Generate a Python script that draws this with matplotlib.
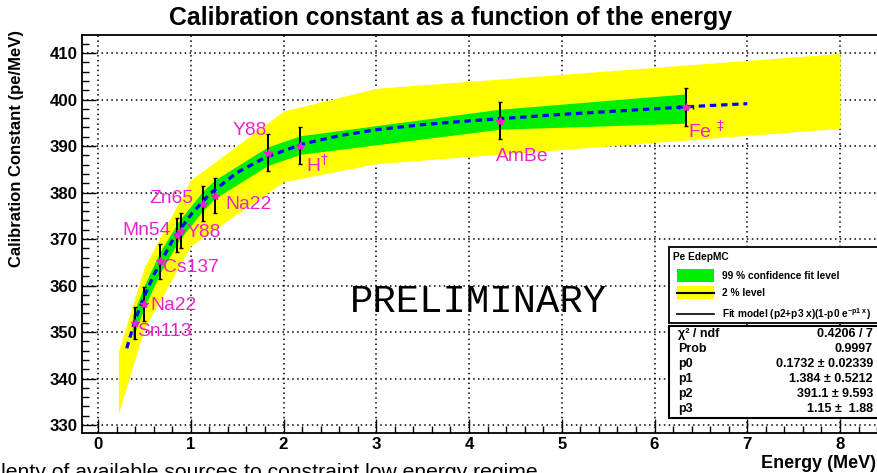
import matplotlib
matplotlib.use("Agg")
import matplotlib.pyplot as plt
from matplotlib.patches import Rectangle
from matplotlib.lines import Line2D
from matplotlib.ticker import MultipleLocator

plt.rcParams["font.family"] = ["Liberation Sans", "DejaVu Sans"]

# calibration points
energy = [0.40, 0.50, 0.67, 0.85, 0.89, 1.13, 1.26, 1.83, 2.18, 4.33, 6.34]
energy_err = [0, 0, 0, 0, 0, 0, 0, 0, 0, 0, 0.08]
calib = [351.9, 356.0, 365.2, 370.9, 371.8, 377.6, 379.3, 388.6, 390.1, 395.4, 398.4]
calib_err = [3.5, 3.6, 3.7, 3.7, 3.7, 3.8, 3.8, 3.9, 3.9, 4.0, 4.0]
sources = ["Sn113", "Na22", "Cs137", "Mn54", "Y88", "Zn65", "Na22", "Y88",
           r"H$^{\dagger}$", "AmBe", r"Fe $^{\ddagger}$"]

# fit curve (dashed)
fit_x = [0.31, 0.4, 0.5, 0.6, 0.8, 1.0, 1.2, 1.5, 1.8, 2.2, 2.6, 3.0, 3.5,
         4.0, 4.5, 5.0, 5.5, 6.0, 6.5, 7.0]
fit_y = [346.5, 352.6, 357.7, 362.2, 369.6, 375.2, 379.6, 384.3, 387.5, 390.4,
         392.2, 393.5, 394.6, 395.4, 396.1, 396.8, 397.4, 398.0, 398.6, 399.1]

# 99 % confidence band (green)
cl99_x = [0.37, 0.50, 0.67, 0.87, 1.13, 1.26, 1.83, 2.18, 4.33, 6.34]
cl99_lo = [348.4, 355.3, 362.7, 369.6, 376.1, 378.7, 385.8, 388.2, 393.6, 394.9]
cl99_hi = [353.4, 360.1, 367.3, 373.8, 380.3, 382.7, 389.8, 392.2, 397.9, 401.2]

# 2 % band (yellow)
lvl2_x = [0.22, 0.5, 1.0, 2.0, 3.0, 8.0]
lvl2_lo = [332.5, 350.8, 368.5, 382.3, 386.2, 393.8]
lvl2_hi = [345.8, 364.0, 382.7, 397.5, 402.4, 409.9]

stats_names = ["χ² / ndf", "Prob", "p0", "p1", "p2", "p3"]
stats_values = ["0.4206 / 7", "0.9997", "0.1732 ± 0.02339", "1.384 ± 0.5212",
                "391.1 ± 9.593", "1.15 ±  1.88"]

W, H = 878, 473


def fx(px):
    return px / W


def fy(py):
    return 1 - py / H


def main():
    fig = plt.figure(figsize=(W / 100, H / 100), dpi=100)
    ax = fig.add_axes([fx(82), fy(432.5), fx(882 - 82), (432.5 - 35) / H])

    ax.fill_between(lvl2_x, lvl2_lo, lvl2_hi, color="#ffff00", lw=0, zorder=1)
    ax.fill_between(cl99_x, cl99_lo, cl99_hi, color="#00ee00", lw=0, zorder=2)
    ax.plot(fit_x, fit_y, color="#0000ff", lw=2.3, ls=(0, (2.0, 1.5)), zorder=4)
    ax.errorbar(energy, calib, yerr=calib_err, xerr=energy_err, fmt="none",
                ecolor="black", elinewidth=1.4, capsize=1.5, zorder=3)
    ax.plot(energy, calib, ls="none", marker="*", ms=6, color="#ee22cc", zorder=5)

    # source labels
    lab_x = [0.42, 0.57, 0.70, 0.79, 0.96, 1.03, 1.37, 1.82, 2.24, 4.29, 6.36]
    lab_y = [350.2, 355.7, 363.9, 371.9, 371.4, 378.8, 377.5, 393.4, 385.9, 387.8, 393.2]
    lab_ha = ["left", "left", "left", "right", "left", "right", "left", "right",
              "left", "left", "left"]
    for s, x, y, ha in zip(sources, lab_x, lab_y, lab_ha):
        ax.text(x, y, s, color="#ee22cc", fontsize=13.9, ha=ha, va="center", zorder=6)

    ax.set_xlim((82 - 98) / 92.75, (882 - 98) / 92.75)
    ax.set_ylim(410 - (432.5 - 53) / 4.65, 410 + (53 - 35) / 4.65)
    ax.xaxis.set_major_locator(MultipleLocator(1))
    ax.xaxis.set_minor_locator(MultipleLocator(0.2))
    ax.yaxis.set_major_locator(MultipleLocator(10))
    ax.yaxis.set_minor_locator(MultipleLocator(2))
    ax.tick_params(which="both", direction="in", width=1, top=False, right=False)
    ax.tick_params(which="major", length=10, labelsize=12.1, pad=3)
    ax.tick_params(which="minor", length=5)
    for lab in ax.get_xticklabels() + ax.get_yticklabels():
        lab.set_fontweight("bold")
    ax.grid(True, which="major", color="black", lw=1.1, ls=(0, (1, 2.2)))
    ax.set_axisbelow(True)
    for sp in ax.spines.values():
        sp.set_linewidth(1.3)

    fig.text(fx(478), fy(302), "PRELIMINARY", family="Liberation Mono", fontsize=28,
             ha="center", va="center")

    fig.text(fx(451), fy(18), "Calibration constant as a function of the energy",
             fontsize=17.9, fontweight="bold", ha="center", va="center")
    fig.text(fx(876), fy(463), "Energy (MeV)", fontsize=13, fontweight="bold",
             ha="right", va="center")
    fig.text(fx(17), fy(30), "Calibration Constant (pe/MeV)", fontsize=12,
             fontweight="bold", rotation=90, ha="center", va="top")
    fig.text(fx(-13), fy(478), "Plenty of available sources to constraint low energy regime",
             fontsize=15.2, ha="left", va="baseline")

    # legend box
    fig.add_artist(Rectangle((fx(669), fy(323)), fx(882 - 669), (323 - 247) / H,
                             transform=fig.transFigure, facecolor="white",
                             edgecolor="black", lw=1.3, zorder=10))
    fig.text(fx(673), fy(257), "Pe EdepMC", fontsize=7.3, fontweight="bold",
             va="center", zorder=11)
    fig.add_artist(Rectangle((fx(677), fy(282)), fx(37), 13 / H, transform=fig.transFigure,
                             facecolor="#00ee00", lw=0, zorder=11))
    fig.text(fx(722), fy(276), "99 % confidence fit level", fontsize=7.3,
             fontweight="bold", va="center", zorder=11)
    fig.add_artist(Rectangle((fx(677), fy(299)), fx(37), 13 / H, transform=fig.transFigure,
                             facecolor="#ffff00", lw=0, zorder=11))
    fig.add_artist(Line2D([fx(677), fx(714)], [fy(293), fy(293)], transform=fig.transFigure,
                          color="black", lw=1.5, zorder=12))
    fig.text(fx(722), fy(293), "2 % level", fontsize=7.3, fontweight="bold",
             va="center", zorder=11)
    fig.add_artist(Line2D([fx(677), fx(714)], [fy(314), fy(314)], transform=fig.transFigure,
                          color="black", lw=1.2, zorder=12))
    fig.text(fx(722), fy(314), r"Fit model (p2+p3 x)(1-p0 e$^{\mathregular{-p1\ x}}$)",
             fontsize=7.3, fontweight="bold", va="center", zorder=11)

    # stats box
    fig.add_artist(Rectangle((fx(669), fy(418)), fx(882 - 669), (418 - 326) / H,
                             transform=fig.transFigure, facecolor="white",
                             edgecolor="black", lw=1.5, zorder=10))
    row_y = [334, 349, 364, 379, 394, 409]
    for name, val, y in zip(stats_names, stats_values, row_y):
        fig.text(fx(678), fy(y), name, fontsize=9, fontweight="bold", va="center", zorder=11)
        fig.text(fx(873), fy(y), val, fontsize=9, fontweight="bold", va="center",
                 ha="right", zorder=11)

    fig.savefig("out.png", dpi=100)


if __name__ == "__main__":
    main()
